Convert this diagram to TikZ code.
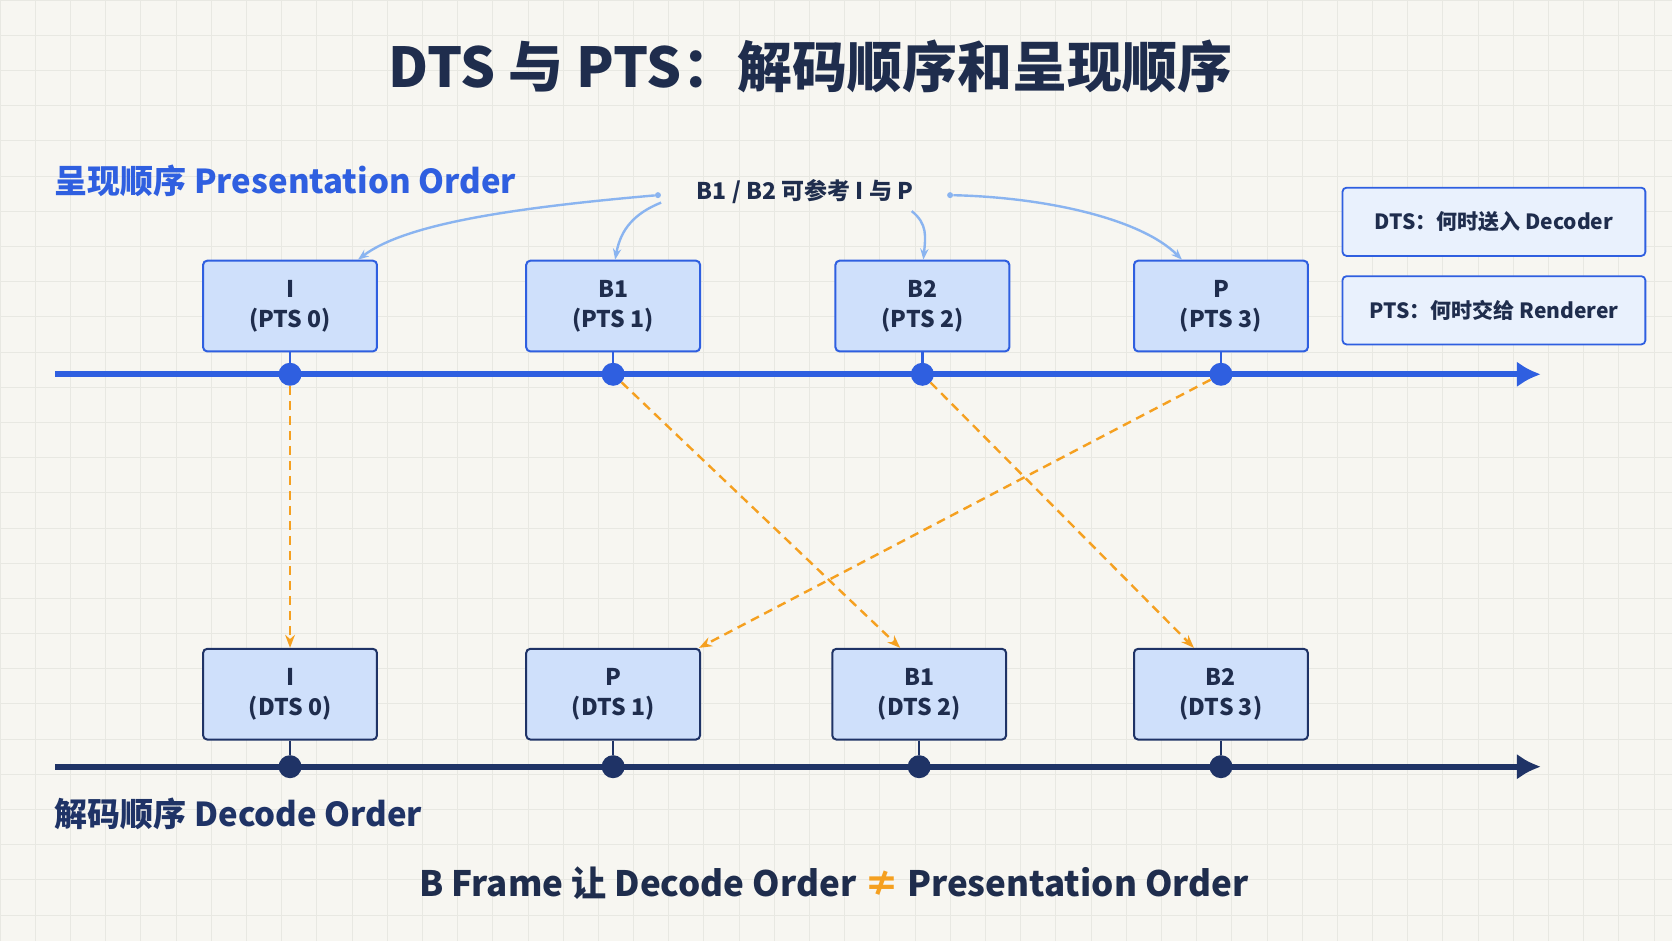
\documentclass[tikz,border=0pt]{standalone}
\usepackage{fontspec}
\setmainfont{Noto Sans CJK SC}
\usetikzlibrary{arrows.meta}
\definecolor{bg}{HTML}{F7F6F1}
\definecolor{gridc}{HTML}{E8E8E2}
\definecolor{navy}{HTML}{1F3366}
\definecolor{tblue}{HTML}{2F5FE0}
\definecolor{boxf}{HTML}{CFE0FB}
\definecolor{lblue}{HTML}{8AB4F0}
\definecolor{orng}{HTML}{F5A020}
\definecolor{ttl}{HTML}{1F2D4D}
\begin{document}
\begin{tikzpicture}[x=1.0663pt,y=-1.0663pt,
  frame/.style={draw=#1,line width=2pt,fill=boxf,rounded corners=4pt,minimum width=163pt*1.0663,minimum height=85pt*1.0663,align=center,font=\fontsize{23}{30}\selectfont\bfseries,text=ttl},
  dot/.style={circle,fill=#1,inner sep=0pt,minimum size=23pt},
  side/.style={draw=tblue,line width=1.8pt,fill=boxf!45,rounded corners=4pt,minimum width=284pt*1.0663,minimum height=64pt*1.0663,font=\fontsize{21}{25}\selectfont\bfseries,text=ttl},
  ref/.style={-{Stealth[length=11pt]},lblue,line width=2.4pt},
  dep/.style={-{Stealth[length=13pt]},orng,line width=2.4pt,dash pattern=on 9pt off 6pt}]
\fill[bg] (0,0) rectangle (1568,882.5);
\useasboundingbox (0,0) rectangle (1568,882.5);
\foreach \x in {0,33,...,1568} \draw[gridc,line width=0.6pt] (\x,0)--(\x,882.5);
\foreach \y in {0,33,...,882} \draw[gridc,line width=0.6pt] (0,\y)--(1568,\y);
\node[font=\fontsize{55}{64}\selectfont\bfseries,text=ttl] (title) at (760,62) {DTS 与 PTS：解码顺序和呈现顺序};
\node[anchor=west,font=\fontsize{33}{40}\selectfont\bfseries,text=tblue] (po) at (48,170) {呈现顺序 Presentation Order};
\node[anchor=west,font=\fontsize{33}{40}\selectfont\bfseries,text=navy] (do) at (48,763) {解码顺序 Decode Order};
\node[font=\fontsize{35}{42}\selectfont\bfseries,text=ttl] (bt) at (782,828) {B Frame 让 Decode Order \textcolor{orng}{≠} Presentation Order};
% axes
\coordinate (a0) at (52,351); \coordinate (a1) at (1445,351);
\coordinate (b0) at (52,719); \coordinate (b1) at (1445,719);
\draw[tblue,line width=6pt,-{Latex[length=24pt,width=26pt]}] (a0)--(a1);
\draw[navy,line width=6pt,-{Latex[length=24pt,width=26pt]}] (b0)--(b1);
% top
\foreach \n/\x/\l/\t in {tI/272/I/PTS 0,tB1/575/B1/PTS 1,tB2/865/B2/PTS 2,tP/1145/P/PTS 3}{
  \node[frame=tblue] (\n) at (\x,287) {\l\\(\t)};
  \node[dot=tblue] (\n d) at (\x,351) {};
  \draw[tblue,line width=2.5pt] (\n.south)--(\n d);
}
\foreach \n/\x/\l/\t in {bI/272/I/DTS 0,bP/575/P/DTS 1,bB1/862/B1/DTS 2,bB2/1145/B2/DTS 3}{
  \node[frame=navy] (\n) at (\x,651) {\l\\(\t)};
  \node[dot=navy] (\n d) at (\x,719) {};
  \draw[navy,line width=2.5pt] (\n.south)--(\n d);
}
\node[side] (s1) at (1401,208) {DTS：何时送入 Decoder};
\node[side] (s2) at (1401,291) {PTS：何时交给 Renderer};
% reference label
\node[font=\fontsize{23}{28}\selectfont\bfseries,text=ttl] (lab) at (755,180) {B1 / B2 可参考 I 与 P};
\node[circle,fill=lblue,inner sep=0pt,minimum size=6pt] (l1) at (617,183) {};
\node[circle,fill=lblue,inner sep=0pt,minimum size=6pt] (l2) at (891,183) {};
\draw[ref] (l1) .. controls (480,195) and (380,210) .. ([xshift=-20pt]tI.north east);
\draw[ref] (620,190) .. controls (595,200) and (582,215) .. ([xshift=2pt]tB1.north);
\draw[ref] (855,198) .. controls (870,210) and (868,222) .. ([xshift=1pt]tB2.north);
\draw[ref] (l2) .. controls (980,185) and (1070,205) .. ([xshift=-39pt]tP.north);
% dependencies
\draw[dep] (tId) -- (bI.north);
\draw[dep] (tB1d) -- ([xshift=-19pt]bB1.north);
\draw[dep] (tB2d) -- ([xshift=-27pt]bB2.north);
\draw[dep] (tPd) -- ([xshift=-2pt]bP.north east);
\end{tikzpicture}
\end{document}
